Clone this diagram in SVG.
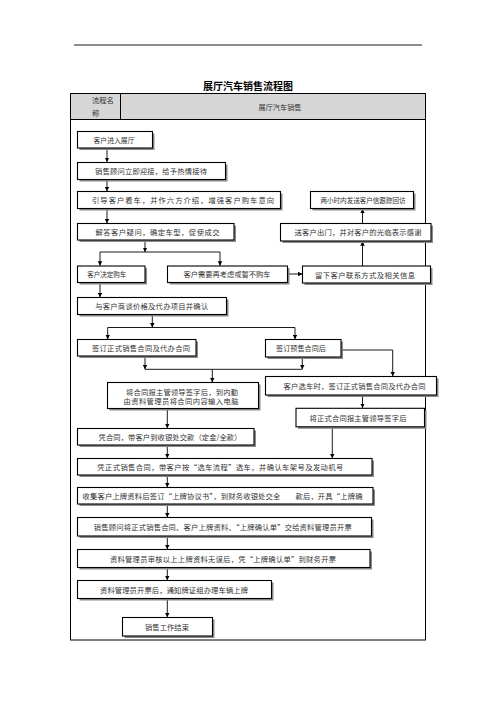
<svg xmlns="http://www.w3.org/2000/svg" width="496" height="702" viewBox="0 0 496 702">
<style>
.bx{fill:#fff;stroke:#000;stroke-width:1.1}
.sh{fill:#8a8a8a}
.t{font-family:"Noto Sans CJK SC","Noto Sans CJK JP",sans-serif;font-size:7.3px;fill:#333;text-anchor:middle;dominant-baseline:central}
.ln{fill:none;stroke:#000;stroke-width:0.9}
</style>
<defs>
<marker id="ah" viewBox="0 0 8 8" refX="8" refY="4" markerWidth="4.5" markerHeight="4.5" orient="auto" markerUnits="userSpaceOnUse">
<path d="M0,0 L8,4 L0,8 z" fill="#000"/>
</marker>
</defs>
<rect width="496" height="702" fill="#fff"/>
<line x1="74" y1="45" x2="422" y2="45" stroke="#000" stroke-width="0.9"/>
<text x="248" y="85" font-family="'Noto Sans CJK SC',sans-serif" font-size="10" font-weight="bold" text-anchor="middle" dominant-baseline="central" textLength="90" lengthAdjust="spacingAndGlyphs">展厅汽车销售流程图</text>
<g id="frame">
<rect x="70.5" y="93.5" width="355" height="26" fill="#d6d6d6" stroke="#000" stroke-width="1"/>
<rect x="70.5" y="93.5" width="355" height="546.5" fill="none" stroke="#000" stroke-width="1"/>
<line x1="120.5" y1="93.5" x2="120.5" y2="119.5" stroke="#000" stroke-width="1"/>
<text class="t" x="92" y="100" style="text-anchor:start">流程名</text>
<text class="t" x="92" y="112.5" style="text-anchor:start">称</text>
<text class="t" x="280" y="107" textLength="43" lengthAdjust="spacingAndGlyphs">展厅汽车销售</text>
</g>
<g id="connectors">
<path class="ln" d="M107,148.3 V162" marker-end="url(#ah)"/>
<path class="ln" d="M107,179.5 V191.3" marker-end="url(#ah)"/>
<path class="ln" d="M107,208.5 V223.3" marker-end="url(#ah)"/>
<path class="ln" d="M145,240 V252" marker-end="url(#ah)"/>
<path class="ln" d="M100,252 H220"/>
<path class="ln" d="M100,252 V265.8" marker-end="url(#ah)"/>
<path class="ln" d="M220,252 V265.8" marker-end="url(#ah)"/>
<path class="ln" d="M287.5,274 H302.3" marker-end="url(#ah)"/>
<path class="ln" d="M362.5,266 V241.2" marker-end="url(#ah)"/>
<path class="ln" d="M362.5,223.5 V208.7" marker-end="url(#ah)"/>
<path class="ln" d="M100,282.5 V297.3" marker-end="url(#ah)"/>
<path class="ln" d="M152.3,314.5 V327.5" marker-end="url(#ah)"/>
<path class="ln" d="M107.7,327.5 H295"/>
<path class="ln" d="M107.7,327.5 V339.3" marker-end="url(#ah)"/>
<path class="ln" d="M295,327.5 V339.3" marker-end="url(#ah)"/>
<path class="ln" d="M145,356 V369.3" marker-end="url(#ah)"/>
<path class="ln" d="M302.3,357 V369.3" marker-end="url(#ah)"/>
<path class="ln" d="M145,369.3 H302.3"/>
<path class="ln" d="M212.3,369.3 V382.3" marker-end="url(#ah)"/>
<path class="ln" d="M341,350 H392.7 V376.3" marker-end="url(#ah)"/>
<path class="ln" d="M362.5,395 V408" marker-end="url(#ah)"/>
<path class="ln" d="M167.3,408.5 V428.3" marker-end="url(#ah)"/>
<path class="ln" d="M167.3,445 V458.3" marker-end="url(#ah)"/>
<path class="ln" d="M332.3,426.5 V458.3" marker-end="url(#ah)"/>
<path class="ln" d="M167.3,475 V487.3" marker-end="url(#ah)"/>
<path class="ln" d="M167.3,504 V517.3" marker-end="url(#ah)"/>
<path class="ln" d="M167.3,536 V549.3" marker-end="url(#ah)"/>
<path class="ln" d="M167.3,567.5 V580.3" marker-end="url(#ah)"/>
<path class="ln" d="M167.3,598.5 V617.3" marker-end="url(#ah)"/>
</g>
<g id="n1"><rect class="sh" x="79.5" y="133.5" width="75" height="16.5"/><rect class="bx" x="77.5" y="131.5" width="75" height="16.5"/><text class="t" x="114" y="139.8" textLength="41" lengthAdjust="spacingAndGlyphs">客户进入展厅</text></g>
<g id="n2"><rect class="sh" x="79.5" y="164.5" width="148" height="17"/><rect class="bx" x="77.5" y="162.5" width="148" height="17"/><text class="t" x="151" y="171" textLength="112">销售顾问立即迎接，给予热情接待</text></g>
<g id="n3"><rect class="sh" x="79.5" y="193.5" width="203" height="17"/><rect class="bx" x="77.5" y="191.5" width="203" height="17"/><text class="t" x="183" y="200" textLength="182">引导客户看车，并作六方介绍，增强客户购车意向</text></g>
<g id="n4"><rect class="sh" x="79.5" y="225.5" width="156.5" height="16.5"/><rect class="bx" x="77.5" y="223.5" width="156.5" height="16.5"/><text class="t" x="157.5" y="231.8" textLength="124">解答客户疑问，确定车型，促使成交</text></g>
<g id="n5"><rect class="sh" x="312.5" y="193.5" width="103" height="17"/><rect class="bx" x="310.5" y="191.5" width="103" height="17"/><text class="t" x="363" y="200" textLength="85" lengthAdjust="spacingAndGlyphs">两小时内发送客户信跟踪回访</text></g>
<g id="n6"><rect class="sh" x="282.5" y="225.5" width="150.5" height="17.5"/><rect class="bx" x="280.5" y="223.5" width="150.5" height="17.5"/><text class="t" x="358" y="232.2" textLength="127">送客户出门，并对客户的光临表示感谢</text></g>
<g id="n7"><rect class="sh" x="79.5" y="268" width="67.5" height="16.5"/><rect class="bx" x="77.5" y="266" width="67.5" height="16.5"/><text class="t" x="106.7" y="274.3" textLength="39" lengthAdjust="spacingAndGlyphs">客户决定购车</text></g>
<g id="n8"><rect class="sh" x="169.5" y="268" width="120" height="16.5"/><rect class="bx" x="167.5" y="266" width="120" height="16.5"/><text class="t" x="227" y="274.3" textLength="87" lengthAdjust="spacingAndGlyphs">客户需要再考虑或暂不购车</text></g>
<g id="n9"><rect class="sh" x="304.5" y="268" width="128" height="17"/><rect class="bx" x="302.5" y="266" width="128" height="17"/><text class="t" x="365" y="274.5" textLength="100">留下客户联系方式及相关信息</text></g>
<g id="n10"><rect class="sh" x="79.5" y="299.5" width="149" height="17"/><rect class="bx" x="77.5" y="297.5" width="149" height="17"/><text class="t" x="151.7" y="306" textLength="113">与客户商谈价格及代办项目并确认</text></g>
<g id="n11"><rect class="sh" x="79.5" y="341.5" width="118.5" height="16.5"/><rect class="bx" x="77.5" y="339.5" width="118.5" height="16.5"/><text class="t" x="141" y="347.8" textLength="98">签订正式销售合同及代办合同</text></g>
<g id="n12"><rect class="sh" x="267.5" y="341.5" width="75.5" height="17.5"/><rect class="bx" x="265.5" y="339.5" width="75.5" height="17.5"/><text class="t" x="301" y="348.2" textLength="50" lengthAdjust="spacingAndGlyphs">签订预售合同后</text></g>
<g id="n13"><rect class="sh" x="109.5" y="384.5" width="151" height="26"/><rect class="bx" x="107.5" y="382.5" width="151" height="26"/><text class="t" x="182" y="391.5" textLength="112">将合同报主管领导签字后，到内勤</text><text class="t" x="181" y="400.5" textLength="115">由资料管理员将合同内容输入电脑</text></g>
<g id="n14"><rect class="sh" x="267.5" y="378.5" width="171" height="18.5"/><rect class="bx" x="265.5" y="376.5" width="171" height="18.5"/><text class="t" x="354.5" y="385.7" textLength="142">客户选车时，签订正式销售合同及代办合同</text></g>
<g id="n15"><rect class="sh" x="298" y="410.3" width="128.5" height="18.5"/><rect class="bx" x="296" y="408.3" width="128.5" height="18.5"/><text class="t" x="358" y="417.5" textLength="97">将正式合同报主管领导签字后</text></g>
<g id="n16"><rect class="sh" x="79.5" y="430.5" width="176.5" height="16.5"/><rect class="bx" x="77.5" y="428.5" width="176.5" height="16.5"/><text class="t" x="170" y="436.8" textLength="143">凭合同，带客户到收银处交款（定金/全款）</text></g>
<g id="n17"><rect class="sh" x="79.5" y="460.5" width="294.5" height="16.5"/><rect class="bx" x="77.5" y="458.5" width="294.5" height="16.5"/><text class="t" x="220.3" y="466.8" textLength="246">凭正式销售合同，带客户按“选车流程”选车，并确认车架号及发动机号</text></g>
<g id="n18"><rect class="sh" x="79.5" y="489.5" width="295.5" height="16.5"/><rect class="bx" x="77.5" y="487.5" width="295.5" height="16.5"/><text class="t" x="222.5" y="495.8" textLength="280">收集客户上牌资料后签订“上牌协议书”，到财务收银处交全　　款后，开具“上牌确</text></g>
<g id="n19"><rect class="sh" x="79.5" y="519.5" width="294" height="18.5"/><rect class="bx" x="77.5" y="517.5" width="294" height="18.5"/><text class="t" x="222.8" y="526.7" textLength="258">销售顾问将正式销售合同、客户上牌资料、“上牌确认单”交给资料管理员开票</text></g>
<g id="n20"><rect class="sh" x="79.5" y="551.5" width="292.5" height="18"/><rect class="bx" x="77.5" y="549.5" width="292.5" height="18"/><text class="t" x="223" y="558.5" textLength="226">资料管理员审核以上上牌资料无误后，凭“上牌确认单”到财务开票</text></g>
<g id="n21"><rect class="sh" x="79.5" y="582.5" width="194" height="18"/><rect class="bx" x="77.5" y="580.5" width="194" height="18"/><text class="t" x="174" y="589.5" textLength="148">资料管理员开票后，通知牌证组办理车辆上牌</text></g>
<g id="n22"><rect class="sh" x="124.5" y="619.5" width="90" height="18.5"/><rect class="bx" x="122.5" y="617.5" width="90" height="18.5"/><text class="t" x="167" y="626.7" textLength="44">销售工作结束</text></g>
</svg>
